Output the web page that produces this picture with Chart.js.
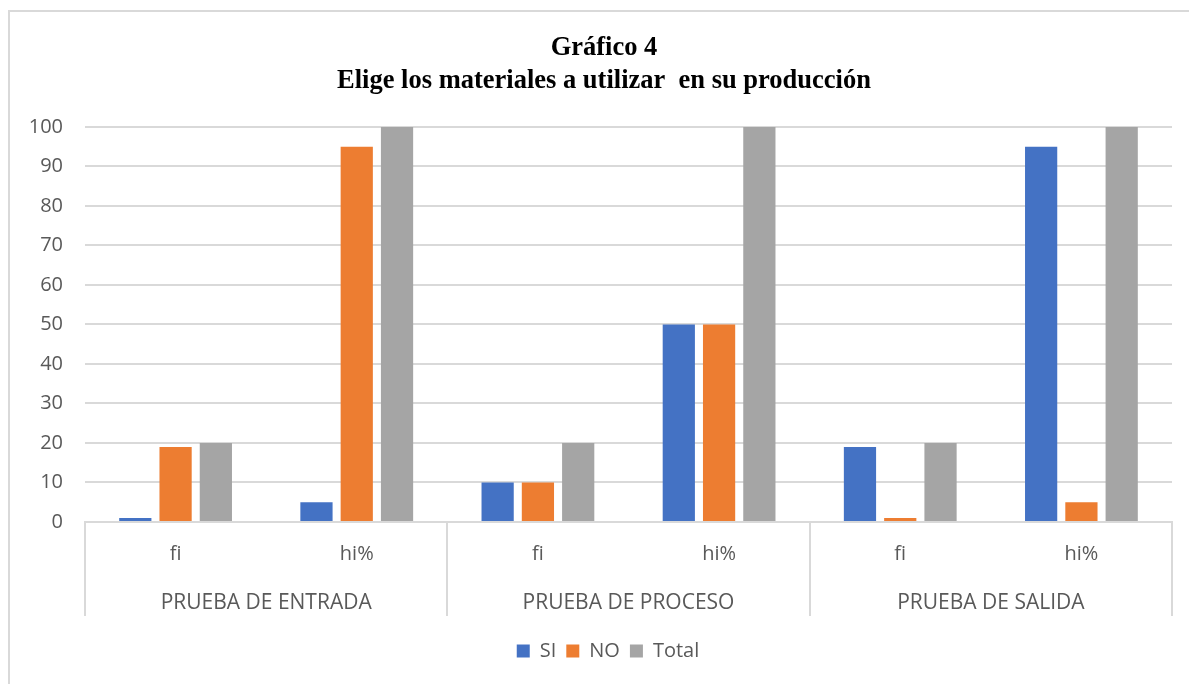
<!DOCTYPE html>
<html>
<head>
<meta charset="utf-8">
<script src="https://cdn.jsdelivr.net/npm/chart.js@4.4.1/dist/chart.umd.min.js"></script>
<style>
  html, body { margin: 0; padding: 0; background: #fff; }
  #wrap { position: relative; width: 1189px; height: 684px; overflow: hidden; }
  #frame { position: absolute; left: 8px; top: 10px; width: 1300px; height: 800px;
           border-left: 2px solid #d9d9d9; border-top: 2px solid #d9d9d9; box-sizing: border-box; }
  canvas { position: absolute; left: 0; top: 0; }
</style>
</head>
<body>
<div id="wrap">
  <div id="frame"></div>
  <canvas id="c" width="1189" height="684"></canvas>
</div>
<script>
const titleLines = ['Gráfico 4', 'Elige los materiales a utilizar  en su producción'];
const subCategories = ['fi', 'hi%', 'fi', 'hi%', 'fi', 'hi%'];
const groups = ['PRUEBA DE ENTRADA', 'PRUEBA DE PROCESO', 'PRUEBA DE SALIDA'];
const seriesNames = ['SI', 'NO', 'Total'];
const siValues = [1, 5, 10, 50, 19, 95];
const noValues = [19, 95, 10, 50, 1, 5];
const totalValues = [20, 100, 20, 100, 20, 100];
const yTicks = [0, 10, 20, 30, 40, 50, 60, 70, 80, 90, 100];
const colors = ['#4472C4', '#ED7D31', '#A5A5A5'];

const FONT = "'Open Sans', 'Noto Sans', sans-serif";
const GRAY = '#595959';
const GRID = '#d9d9d9';

const dividerPlugin = {
  id: 'dividers',
  afterLayout(chart) {
    if (chart.legend) {
      chart.legend.left += 22;
      chart.legend.right += 22;
    }
    if (chart.titleBlock) {
      chart.titleBlock.left += 18;
      chart.titleBlock.right += 18;
    }
  },
  afterDraw(chart) {
    const x = chart.scales.x;
    const ctx = chart.ctx;
    const bottom = chart.chartArea.bottom + 94;
    ctx.save();
    ctx.strokeStyle = GRID;
    ctx.lineWidth = 2;
    for (let k = 0; k <= groups.length; k++) {
      const px = Math.round(x.getPixelForValue(2 * k - 0.5));
      ctx.beginPath();
      ctx.moveTo(px, chart.chartArea.bottom);
      ctx.lineTo(px, bottom);
      ctx.stroke();
    }
    ctx.restore();
  }
};

new Chart(document.getElementById('c'), {
  type: 'bar',
  data: {
    labels: subCategories,
    datasets: [
      { label: seriesNames[0], data: siValues, backgroundColor: colors[0] },
      { label: seriesNames[1], data: noValues, backgroundColor: colors[1] },
      { label: seriesNames[2], data: totalValues, backgroundColor: colors[2] }
    ]
  },
  options: {
    responsive: false,
    animation: false,
    categoryPercentage: 0.667,
    barPercentage: 0.8,
    layout: { padding: { left: 0, right: 17, top: 0, bottom: 13 } },
    plugins: {
      title: {
        display: true,
        text: titleLines,
        color: '#000',
        font: { family: "'Liberation Serif', 'Times New Roman', serif", size: 26.5, weight: 'bold', lineHeight: 1.245 },
        padding: { top: 32, bottom: 29 }
      },
      legend: {
        position: 'bottom',
        labels: {
          color: GRAY,
          font: { family: FONT, size: 20 },
          boxWidth: 13,
          boxHeight: 13,
          padding: 10
        }
      },
      tooltip: { enabled: false }
    },
    scales: {
      y: {
        min: 0,
        max: 100,
        afterFit(scale) { scale.width = 85; },
        afterBuildTicks(scale) { scale.ticks = yTicks.map(v => ({ value: v })); },
        ticks: { color: GRAY, font: { family: FONT, size: 20 }, padding: 22 },
        grid: { color: GRID, lineWidth: 2, drawTicks: false },
        border: { display: false }
      },
      x: {
        grid: { display: false, drawTicks: false },
        border: { display: true, color: GRID, width: 2 },
        ticks: { color: GRAY, font: { family: FONT, size: 20 }, padding: 20 },
        afterFit(scale) { scale.height = 58; }
      },
      x2: {
        type: 'category',
        labels: groups,
        position: 'bottom',
        grid: { display: false, drawTicks: false },
        border: { display: false },
        ticks: { color: GRAY, font: { family: FONT, size: 21 }, padding: 10 },
        afterFit(scale) { scale.height = 51; }
      }
    }
  },
  plugins: [dividerPlugin]
});
</script>
</body>
</html>
